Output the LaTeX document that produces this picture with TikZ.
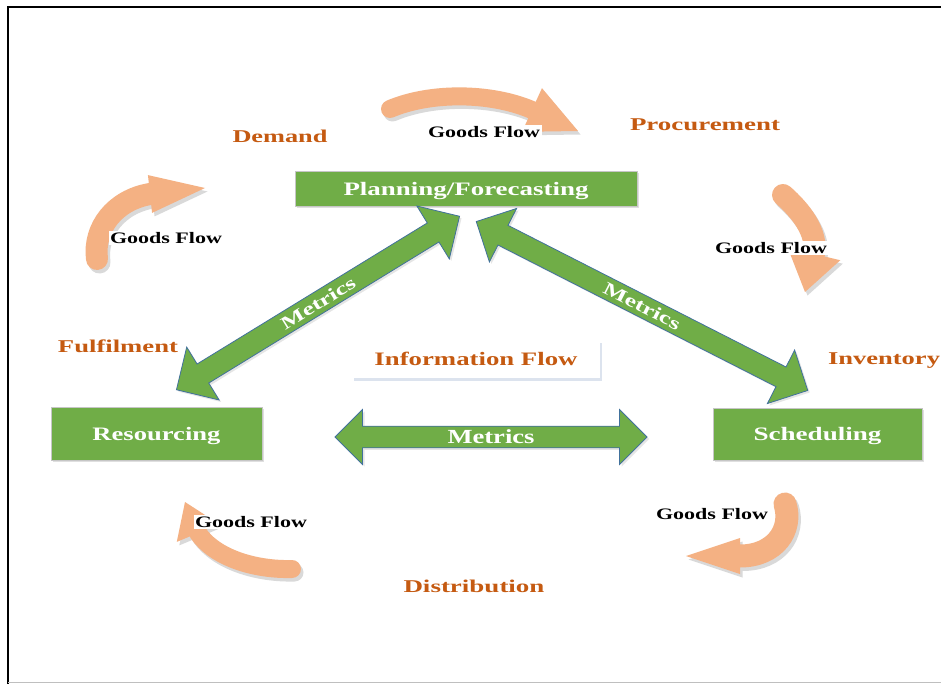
\documentclass[tikz,border=0pt]{standalone}
\usepackage{fontspec}
\setmainfont{Liberation Serif}
\usetikzlibrary{shapes.arrows,shadows,calc}
\definecolor{gfill}{HTML}{F4B183}
\definecolor{gshade}{HTML}{D9D9D9}
\definecolor{grn}{HTML}{70AD47}
\definecolor{grnline}{HTML}{41719C}
\definecolor{orng}{HTML}{C55A11}
\definecolor{infoshade}{HTML}{DCE3EE}
\newcommand{\wtext}[3]{\resizebox{#2pt}{\height}{\fontsize{#1}{#1}\selectfont\bfseries #3}}
\newcommand{\gflow}[7]{%
  \begin{scope}[shift={(2.5,3.5)}]
    \draw[gshade, line width=#6pt, line cap=round] #1 .. controls #2 and #3 .. #4;
    \fill[gshade] ($#4!#7pt!90:#5$) -- #5 -- ($#4!#7pt!-90:#5$) -- cycle;
  \end{scope}
  \draw[gfill, line width=#6pt, line cap=round] #1 .. controls #2 and #3 .. #4;
  \fill[gfill] ($#4!#7pt!90:#5$) -- #5 -- ($#4!#7pt!-90:#5$) -- cycle;
}
\begin{document}
\begin{tikzpicture}[x=1pt,y=-1pt,
  gbox/.style={fill=grn, draw=gray!45, line width=0.8pt, text=white, inner sep=0pt, text depth=0pt,
    drop shadow={shadow xshift=2pt, shadow yshift=-2pt, opacity=.25}},
  infobox/.style={fill=white, draw=none, inner sep=0pt, text=orng, text depth=0pt,
    drop shadow={shadow xshift=1.5pt, shadow yshift=-2.5pt, fill=infoshade, opacity=1}},
  marrow/.style={double arrow, fill=grn, draw=grnline, line width=0.8pt, inner sep=2pt,
    text=white, drop shadow={shadow xshift=2pt, shadow yshift=-2pt, opacity=.2}},
  olabel/.style={text=orng, inner sep=0pt},
  glabel/.style={fill=white, inner sep=1.5pt, text=black}]
\useasboundingbox (0,0) rectangle (941,684);
\fill[white] (0,0) rectangle (941,684);
\draw[line width=1.3pt] (8,684) -- (8,7) -- (941,7);
\draw[gray!50, line width=1pt] (8,682) -- (941,682);

% goods flow arrows
\gflow{(390,109)}{(430,92)}{(490,92)}{(532,110)}{(578,131)}{18}{24}
\gflow{(783,195)}{(800,210)}{(818,232)}{(814,254)}{(805,292)}{22}{27}
\gflow{(785,504)}{(793,530)}{(775,556)}{(740,556)}{(686,556)}{23}{18}
\gflow{(292,569)}{(255,570)}{(215,558)}{(198,533)}{(185,502)}{18}{23}
\gflow{(97,259)}{(93,228)}{(115,200)}{(150,194)}{(205,188)}{22}{19}

% boxes
\node[gbox, minimum width=342, minimum height=35] (plan) at (466,188.5) {\wtext{19}{245}{Planning/Forecasting}};
\node[gbox, minimum width=211, minimum height=53] (res) at (156.5,433.5) {\wtext{19}{128}{Resourcing}};
\node[gbox, minimum width=209, minimum height=52] (sch) at (817.5,434) {\wtext{19}{128}{Scheduling}};
\node[infobox, minimum width=248, minimum height=38] (info) at (476,359) {\wtext{19}{203}{Information Flow}};

% metrics arrows
\node[marrow, minimum height=312, minimum width=55, double arrow head extend=14.5] (m3) at (491,437) {\wtext{20}{87}{Metrics}};
\node[marrow, rotate=31.5, minimum height=332, minimum width=62, double arrow head extend=15.5] (m1) at (318,303) {\wtext{18}{84}{Metrics}};
\node[marrow, rotate=-27, minimum height=372, minimum width=60, double arrow head extend=15] (m2) at (642,306) {\wtext{18}{84}{Metrics}};

% orange labels
\node[olabel] (dem) at (280,136) {\wtext{18}{95}{Demand}};
\node[olabel] (proc) at (705,125) {\wtext{18}{150}{Procurement}};
\node[olabel] (inv) at (884,361) {\wtext{18}{112}{Inventory}};
\node[olabel] (ful) at (118,346) {\wtext{18}{120}{Fulfilment}};
\node[olabel] (dist) at (474,586) {\wtext{18}{141}{Distribution}};

% goods flow labels
\node[glabel] (g1) at (484,132) {\wtext{16}{112}{Goods Flow}};
\node[glabel] (g2) at (771,248) {\wtext{16}{112}{Goods Flow}};
\node[glabel] (g3) at (166,238) {\wtext{16}{112}{Goods Flow}};
\node[glabel] (g4) at (712,514) {\wtext{16}{112}{Goods Flow}};
\node[glabel] (g5) at (251,522) {\wtext{16}{112}{Goods Flow}};
\end{tikzpicture}
\end{document}
